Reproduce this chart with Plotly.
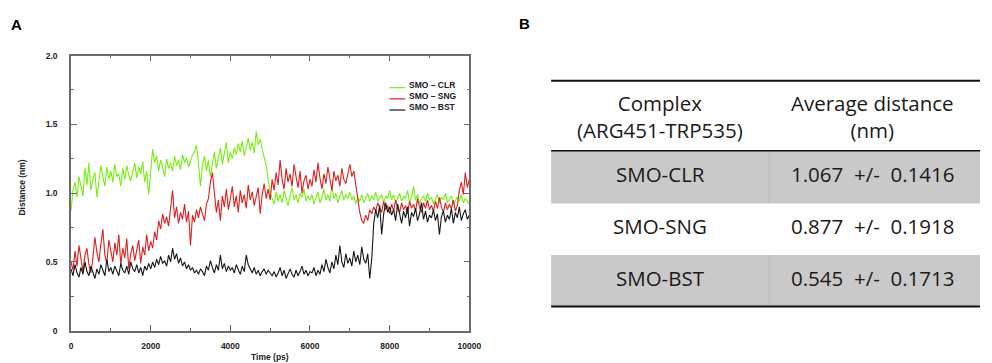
import plotly.graph_objects as go

# ---------------- data ----------------
time_ps = list(range(0, 10001, 50))

smo_clr = [
    0.87, 1.02, 1.08, 0.97, 1.12, 1.05, 0.98, 1.18, 1.06, 1.22, 1.02, 1.10, 1.15, 0.97, 1.08, 1.20, 1.12, 1.05, 1.19, 1.10, 1.16,
    1.08, 1.21, 1.12, 1.14, 1.05, 1.18, 1.10, 1.20, 1.13, 1.09, 1.17, 1.22, 1.11, 1.19, 1.14, 1.23, 1.08, 1.16, 0.99, 1.18,
    1.32, 1.22, 1.27, 1.16, 1.24, 1.19, 1.12, 1.25, 1.18, 1.22, 1.16, 1.27, 1.20, 1.24, 1.17, 1.28, 1.22, 1.26, 1.19, 1.23,
    1.28, 1.30, 1.35, 1.22, 1.05, 1.20, 1.27, 1.16, 1.24, 1.12, 1.22, 1.30, 1.18, 1.26, 1.33, 1.21, 1.28, 1.37, 1.22, 1.30,
    1.25, 1.33, 1.28, 1.36, 1.30, 1.38, 1.27, 1.34, 1.40, 1.31, 1.37, 1.29, 1.45, 1.35, 1.39, 1.32, 1.26, 1.20, 1.10, 1.00,
    0.96, 0.92, 1.01, 0.94, 0.99, 0.93, 1.02, 0.96, 0.91, 0.98, 1.04, 0.95, 0.99, 0.93, 1.00, 0.97, 1.03, 0.94, 0.98, 0.95,
    0.99, 0.92, 0.96, 1.01, 0.93, 0.97, 1.03, 0.95, 0.99, 0.94, 1.05, 0.96, 1.00, 0.93, 0.98, 1.02, 0.95, 0.99, 0.96, 1.01,
    0.95, 0.98, 0.92, 0.97, 0.94, 0.99, 0.93, 0.96, 1.00, 0.94, 0.98, 0.95, 1.01, 0.94, 0.97, 0.99, 0.93, 0.98, 0.96, 1.02,
    0.95, 0.99, 0.93, 0.97, 1.00, 0.94, 0.98, 0.96, 1.02, 0.93, 0.97, 1.05, 0.95, 0.99, 0.92, 0.96, 0.98, 0.94, 1.00, 0.95,
    0.97, 0.92, 0.96, 0.99, 0.93, 0.97, 0.95, 1.00, 0.93, 0.96, 0.98, 0.92, 0.95, 0.97, 0.94, 0.99, 0.93, 0.96, 0.94, 0.92,
]

smo_sng = [
    0.50, 0.44, 0.58, 0.47, 0.62, 0.51, 0.43, 0.55, 0.60, 0.48, 0.42, 0.53, 0.68, 0.57, 0.50, 0.63, 0.74, 0.55, 0.49, 0.66, 0.58,
    0.50, 0.64, 0.55, 0.70, 0.48, 0.60, 0.53, 0.67, 0.45, 0.56, 0.62, 0.51, 0.58, 0.66, 0.49, 0.61, 0.55, 0.70, 0.58, 0.65,
    0.60, 0.72, 0.66, 0.80, 0.74, 0.85, 0.78, 0.83, 0.76, 0.88, 1.02, 0.82, 0.90, 0.78, 0.86, 0.81, 0.92, 0.79, 0.87, 0.62,
    0.84, 0.79, 0.88, 0.82, 0.90, 0.85, 0.80, 0.92, 0.96, 1.08, 1.15, 1.00, 0.86, 0.95, 0.80, 0.98, 0.90, 1.03, 0.88, 0.96,
    1.05, 0.90, 0.98, 0.86, 1.02, 0.93, 0.99, 0.89, 1.06, 0.95, 1.01, 0.91, 0.97, 1.04, 0.85, 0.99, 1.07, 0.96, 1.03, 0.95,
    1.10, 1.02, 1.15, 1.06, 1.24, 1.10, 1.03, 1.18, 1.08, 1.14, 1.05, 1.21, 1.12, 1.04, 1.16, 1.00, 1.09, 1.13, 1.03, 1.10,
    1.05, 1.17, 1.08, 1.22, 1.11, 1.03, 1.14, 1.07, 1.19, 1.10, 1.02, 1.16, 1.09, 1.13, 1.05, 1.18, 1.10, 1.07, 1.15, 1.21,
    1.12, 1.16, 1.06, 0.95, 0.86, 0.80, 0.78, 0.84, 0.80, 0.88, 0.85, 0.90, 0.87, 0.93, 0.89, 0.86, 0.94, 0.88, 0.91, 0.85,
    0.92, 0.87, 0.95, 0.89, 0.86, 0.93, 0.88, 0.91, 0.85, 0.94, 0.89, 0.92, 0.87, 0.96, 0.90, 0.86, 0.93, 0.89, 0.95, 0.88,
    0.91, 0.87, 0.94, 0.89, 0.97, 0.90, 0.86, 0.93, 0.88, 0.92, 0.89, 0.95, 0.87, 0.91, 1.02, 1.08, 0.99, 1.15, 1.04, 1.10,
]

smo_bst = [
    0.45, 0.40, 0.48, 0.42, 0.39, 0.46, 0.41, 0.50, 0.43, 0.40, 0.47, 0.42, 0.38, 0.45, 0.41, 0.48, 0.44, 0.40, 0.52, 0.43, 0.46,
    0.41, 0.47, 0.43, 0.40, 0.49, 0.44, 0.42, 0.47, 0.41, 0.50, 0.45, 0.43, 0.48, 0.42, 0.46, 0.40, 0.47, 0.44, 0.49, 0.45,
    0.50, 0.46, 0.52, 0.48, 0.54, 0.49, 0.51, 0.47, 0.55, 0.50, 0.60, 0.52, 0.56, 0.49, 0.53, 0.47, 0.50, 0.45, 0.48, 0.44,
    0.46, 0.42, 0.44, 0.41, 0.45, 0.43, 0.40, 0.47, 0.44, 0.51, 0.46, 0.42, 0.48, 0.44, 0.55, 0.45, 0.49, 0.43, 0.47, 0.44,
    0.46, 0.42, 0.48, 0.44, 0.41, 0.47, 0.43, 0.55, 0.48, 0.45, 0.42, 0.46, 0.41, 0.44, 0.40, 0.43, 0.45, 0.41, 0.44, 0.42,
    0.40, 0.43, 0.39, 0.42, 0.46, 0.40, 0.44, 0.38, 0.42, 0.45, 0.41, 0.39, 0.44, 0.40, 0.43, 0.47, 0.41, 0.44, 0.40, 0.43,
    0.42, 0.46, 0.40, 0.44, 0.41, 0.48, 0.43, 0.52, 0.46, 0.42, 0.50, 0.45, 0.55, 0.48, 0.62, 0.50, 0.46, 0.56, 0.49, 0.53,
    0.47, 0.58, 0.50, 0.55, 0.48, 0.61, 0.52, 0.49, 0.56, 0.38, 0.52, 0.78, 0.88, 0.82, 0.91, 0.70, 0.85, 0.93, 0.86, 0.90,
    0.84, 0.88, 0.80, 0.92, 0.85, 0.78, 0.87, 0.82, 0.90, 0.76, 0.86, 0.83, 0.89, 0.80, 0.85, 0.93, 0.81, 0.87, 0.79, 0.84,
    0.82, 0.88, 0.80, 0.85, 0.70, 0.83, 0.87, 0.79, 0.84, 0.81, 0.89, 0.78, 0.86, 0.82, 0.90, 0.80, 0.85, 0.88, 0.81, 0.84,
]

series_names = ["SMO \u2013 CLR", "SMO \u2013 SNG", "SMO \u2013 BST"]
series_colors = ["#77ee11", "#dd1f1f", "#151515"]

y_tick_vals = [0, 0.5, 1.0, 1.5, 2.0]
y_tick_text = ["0", "0.5", "1.0", "1.5", "2.0"]
x_tick_vals = [0, 2000, 4000, 6000, 8000, 10000]

table_header = ["Complex<br>(ARG451-TRP535)", "Average distance<br>(nm)"]
table_complex = ["SMO-CLR", "SMO-SNG", "SMO-BST"]
table_mean = ["1.067", "0.877", "0.545"]
table_sd = ["0.1416", "0.1918", "0.1713"]

# ---------------- layout helpers ----------------
W, H = 992, 363
def px(x):
    return x / W
def py(y):
    return 1 - y / H

fig = go.Figure()
for vals, name, col in zip([smo_clr, smo_sng, smo_bst], series_names, series_colors):
    fig.add_trace(go.Scatter(x=time_ps, y=vals, mode="lines", name=name,
                             line=dict(color=col, width=1.1), showlegend=False))

axis_line = "#6a6a6a"
tickfont = dict(family="Liberation Sans", size=8.5, color="#222", weight="bold")

fig.update_layout(
    width=W, height=H, autosize=False,
    margin=dict(l=0, r=0, t=0, b=0),
    paper_bgcolor="white", plot_bgcolor="white",
    xaxis=dict(domain=[px(70), px(474)], range=[0, 10000], showgrid=False, zeroline=False,
               showline=True, linecolor=axis_line, linewidth=1.5, mirror="allticks",
               ticks="inside", ticklen=6, tickwidth=1.2, tickcolor=axis_line,
               tickvals=x_tick_vals, tickformat="d", tickfont=tickfont, ticklabelstandoff=6,
               minor=dict(dtick=1000, ticks="inside", ticklen=3, tickwidth=1, tickcolor=axis_line)),
    yaxis=dict(domain=[py(335), py(52)], range=[0, 2], showgrid=False, zeroline=False,
               showline=True, linecolor=axis_line, linewidth=1.5, mirror="allticks",
               ticks="inside", ticklen=6, tickwidth=1.2, tickcolor=axis_line,
               tickvals=y_tick_vals, ticktext=y_tick_text, tickfont=tickfont, ticklabelstandoff=10,
               minor=dict(dtick=0.25, ticks="inside", ticklen=3, tickwidth=1, tickcolor=axis_line)),
)

annotations = []
shapes = []

# legend (drawn compactly like the original)
for i, (name, col) in enumerate(zip(series_names, series_colors)):
    yy = 82 + i * 11.5
    shapes.append(dict(type="line", xref="paper", yref="paper",
                       x0=px(393), x1=px(409), y0=py(yy + 3), y1=py(yy + 3),
                       line=dict(color=col, width=1.2)))
    annotations.append(dict(x=px(411), y=py(yy), xref="paper", yref="paper", text=name,
                            showarrow=False, xanchor="left", yanchor="middle",
                            font=dict(family="Liberation Sans", size=8.5, color="#222", weight="bold")))

# panel letters
annotations.append(dict(x=px(7), y=py(20), xref="paper", yref="paper", text="<b>A</b>",
                        showarrow=False, xanchor="left", yanchor="middle",
                        font=dict(family="Liberation Sans", size=15, color="black")))
annotations.append(dict(x=px(522), y=py(19), xref="paper", yref="paper", text="<b>B</b>",
                        showarrow=False, xanchor="left", yanchor="middle",
                        font=dict(family="Liberation Sans", size=15, color="black")))
# axis titles
annotations.append(dict(x=px(272), y=py(355), xref="paper", yref="paper", text="<b>Time (ps)</b>",
                        showarrow=False, xanchor="center", yanchor="top",
                        font=dict(family="Liberation Sans", size=8.5, color="#222")))
annotations.append(dict(x=px(20), y=py(188), xref="paper", yref="paper", text="<b>Distance (nm)</b>",
                        showarrow=False, xanchor="center", yanchor="middle", textangle=-90,
                        font=dict(family="Liberation Sans", size=8.5, color="#222")))

# ---------------- table (panel B) ----------------
tx0, tx1, tdiv = 557, 992, 778
c1, c2 = (tx0 + tdiv) / 2, (tdiv + tx1) / 2 - 2
row_edges = [78, 150, 204, 257, 310]
row_fill = ["#c9c9c9", "white", "#c9c9c9"]
tfont = dict(family="Open Sans", size=20.5, color="#1a1a1a")

for i, fill in enumerate(row_fill):
    if fill != "white":
        shapes.append(dict(type="rect", xref="paper", yref="paper",
                           x0=px(tx0), x1=px(tx1), y0=py(row_edges[i + 2]), y1=py(row_edges[i + 1]),
                           fillcolor=fill, line=dict(width=0), layer="below"))
        shapes.append(dict(type="line", xref="paper", yref="paper",
                           x0=px(tdiv), x1=px(tdiv), y0=py(row_edges[i + 2]), y1=py(row_edges[i + 1]),
                           line=dict(color="#bcbcbc", width=1)))
for yy, wdt in [(78, 2), (150, 1.5), (310, 2)]:
    shapes.append(dict(type="line", xref="paper", yref="paper",
                       x0=px(tx0), x1=px(tx1), y0=py(yy), y1=py(yy),
                       line=dict(color="#111", width=wdt)))

annotations.append(dict(x=px(c1), y=py(115), xref="paper", yref="paper", text=table_header[0],
                        showarrow=False, xanchor="center", yanchor="middle", font=tfont))
annotations.append(dict(x=px(c2), y=py(115), xref="paper", yref="paper", text=table_header[1],
                        showarrow=False, xanchor="center", yanchor="middle", font=tfont))
for i, (cx, m, s) in enumerate(zip(table_complex, table_mean, table_sd)):
    yc = (row_edges[i + 1] + row_edges[i + 2]) / 2 - 3
    annotations.append(dict(x=px(c1), y=py(yc), xref="paper", yref="paper", text=cx,
                            showarrow=False, xanchor="center", yanchor="middle", font=tfont))
    annotations.append(dict(x=px(c2), y=py(yc), xref="paper", yref="paper",
                            text=m + "\u00a0\u00a0+/-\u00a0\u00a0" + s,
                            showarrow=False, xanchor="center", yanchor="middle", font=tfont))

fig.update_layout(annotations=annotations, shapes=shapes)
fig.write_html("out.html",
               config=dict(displayModeBar=False, responsive=False),
               post_script="document.body.style.margin='0';document.body.style.overflow='hidden';"
                           "document.documentElement.style.overflow='hidden';")
